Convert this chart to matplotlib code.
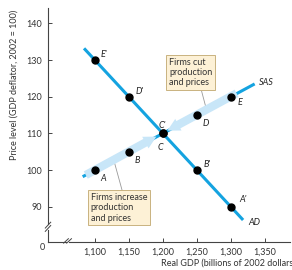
import numpy as np
import matplotlib.pyplot as plt

# data
sas_x = [1100, 1150, 1200, 1250, 1300]
sas_y = [100, 105, 110, 115, 120]
sas_labels = ['A', 'B', 'C', 'D', 'E']
ad_x = [1100, 1150, 1200, 1250, 1300]
ad_y = [130, 120, 110, 100, 90]
ad_labels = ["E'", "D'", "C'", "B'", "A'"]
sas_line_x = [1082, 1335]
ad_line_x = [1084, 1318]
x_ticks = [1100, 1150, 1200, 1250, 1300, 1350]
x_tick_labels = ['1,100', '1,150', '1,200', '1,250', '1,300', '1,350']
y_ticks = [90, 100, 110, 120, 130, 140]

blue = '#14a3e0'
pale = '#c8e6f8'
box_face = '#fdf1d6'
box_edge = '#c9b27f'
fs = 6.5

plt.rcParams['font.family'] = ['Lato', 'DejaVu Sans']

fig = plt.figure(figsize=(2.92, 2.70), dpi=100)
ax = fig.add_axes([48 / 292, 28 / 270, 242 / 292, 234 / 270])
ax.set_xlim(1031, 1387)
ax.set_ylim(80.4, 144.2)

for s in ax.spines.values():
    s.set_visible(False)

# axes drawn by hand so they can carry the break marks
yt = ax.get_yaxis_transform()
xt = ax.get_xaxis_transform()
ax.plot([0, 0], [80.4, 83.8], color='#444444', lw=0.8, transform=yt, clip_on=False)
ax.plot([0, 0], [85.3, 144.2], color='#444444', lw=0.8, transform=yt, clip_on=False)
ax.plot([1031, 1058], [0, 0], color='#444444', lw=0.8, transform=xt, clip_on=False)
ax.plot([1062, 1387], [0, 0], color='#444444', lw=0.8, transform=xt, clip_on=False)
for dy in (0, 0.9):
    ax.plot([1027, 1035], [83.3 + dy, 84.9 + dy], color='#444444', lw=0.7, clip_on=False)
for dx in (0, 4.5):
    ax.plot([1054 + dx, 1061 + dx], [80.1, 81.3], color='#444444', lw=0.7, clip_on=False)

ax.set_xticks(x_ticks)
ax.set_xticklabels(x_tick_labels)
ax.set_yticks(y_ticks)
ax.tick_params(direction='in', length=3, width=0.7, color='#444444',
               labelsize=fs, labelcolor='#333333', pad=4)
ax.text(1022, 80.0, '0', ha='center', va='top', fontsize=fs, color='#333333')

# pale arrows behind SAS
arrow = dict(arrowstyle='simple,head_width=0.95,head_length=0.9,tail_width=0.6',
             color=pale, mutation_scale=10, lw=0)
ax.annotate('', xy=(1203, 110.4), xytext=(1312, 121.3), arrowprops=arrow)
ax.annotate('', xy=(1194, 109.5), xytext=(1083, 98.3), arrowprops=arrow)

sx = np.array(sas_line_x)
ax.plot(sx, 100 + (sx - 1100) * 0.1, color=blue, lw=2.2, solid_capstyle='butt')
ax_ = np.array(ad_line_x)
ax.plot(ax_, 130 - (ax_ - 1100) * 0.2, color=blue, lw=2.2, solid_capstyle='butt')

ax.plot(sas_x, sas_y, 'o', color='black', ms=5, zorder=5)
ax.plot(ad_x, ad_y, 'o', color='black', ms=5, zorder=5)

sas_off = [(4, -6), (4, -6), (-4, -10), (4, -6), (5, -4)]
for x, y, lab, off in zip(sas_x, sas_y, sas_labels, sas_off):
    ax.annotate(lab, (x, y), xytext=off, textcoords='offset points',
                fontsize=fs, style='italic', color='#222222', va='center')
ad_off = [(4, 4), (5, 4), (-3, 6), (5, 4), (6, 5)]
for x, y, lab, off in zip(ad_x, ad_y, ad_labels, ad_off):
    ax.annotate(lab, (x, y), xytext=off, textcoords='offset points',
                fontsize=fs, style='italic', color='#222222', va='center')

ax.text(1341, 124.0, 'SAS', fontsize=fs, style='italic', color='#222222', va='center')
ax.text(1325, 85.6, 'AD', fontsize=fs, style='italic', color='#222222', va='center')

# callouts
ax.plot([1257, 1263], [121.5, 117.3], color='#999999', lw=0.6)
ax.plot([1129, 1140], [101.9, 94.5], color='#999999', lw=0.6)
bb = dict(boxstyle='square,pad=0.3', fc=box_face, ec=box_edge, lw=0.7)
ax.text(1209, 130.7, 'Firms cut\nproduction\nand prices', fontsize=fs,
        va='top', ha='left', color='#333333', linespacing=1.2, bbox=bb)
ax.text(1094, 93.8, 'Firms increase\nproduction\nand prices', fontsize=fs,
        va='top', ha='left', color='#333333', linespacing=1.2, bbox=bb)

fig.text(14 / 292, 1 - 85 / 270, 'Price level (GDP deflator, 2002 = 100)',
         rotation=90, ha='center', va='center', fontsize=fs, color='#333333')
fig.text(161 / 292, 1 - 263 / 270, 'Real GDP (billions of 2002 dollars)',
         ha='left', va='center', fontsize=fs, color='#333333')

fig.savefig('out.png', dpi=100)
